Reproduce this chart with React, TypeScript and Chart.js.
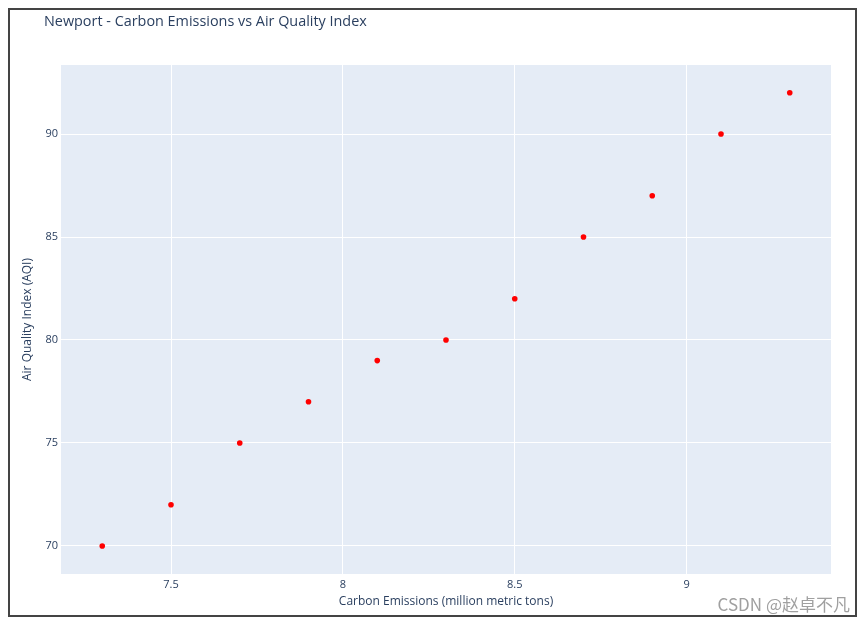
import React, { useEffect, useRef } from "react";
import { Chart, registerables } from "chart.js";

Chart.register(...registerables);

const titleText = "Newport - Carbon Emissions vs Air Quality Index";
const xTitle = "Carbon Emissions (million metric tons)";
const yTitle = "Air Quality Index (AQI)";
const watermark = "CSDN @赵卓不凡";

const carbonEmissions = [7.3, 7.5, 7.7, 7.9, 8.1, 8.3, 8.5, 8.7, 8.9, 9.1, 9.3];
const aqiValues = [70, 72, 75, 77, 79, 80, 82, 85, 87, 90, 92];

const xTicks = [7.5, 8, 8.5, 9];
const yTicks = [70, 75, 80, 85, 90];

const FONT = "'Open Sans', 'Noto Sans', sans-serif";
const TEXT = "#2a3f5f";

export default function App() {
  const ref = useRef<HTMLCanvasElement | null>(null);

  useEffect(() => {
    if (!ref.current) return;
    const bgPlugin = {
      id: "plotBg",
      beforeDraw(chart: any) {
        const { ctx, chartArea } = chart;
        ctx.save();
        ctx.fillStyle = "#e5ecf6";
        ctx.fillRect(chartArea.left, chartArea.top, chartArea.right - chartArea.left, chartArea.bottom - chartArea.top);
        ctx.restore();
      },
      afterDraw(chart: any) {
        const { ctx } = chart;
        ctx.save();
        ctx.fillStyle = TEXT;
        ctx.font = `14.4px ${FONT}`;
        ctx.textBaseline = "middle";
        ctx.textAlign = "left";
        ctx.fillText(titleText, 34, 11.5);
        ctx.fillStyle = "#a0a0a0";
        ctx.font = `17px 'Noto Sans CJK SC', 'Noto Sans', sans-serif`;
        ctx.textAlign = "right";
        ctx.fillText(watermark, 840, 595);
        ctx.restore();
      },
    };

    const chart = new Chart(ref.current, {
      type: "scatter",
      data: {
        datasets: [
          {
            data: carbonEmissions.map((x, i) => ({ x, y: aqiValues[i] })),
            backgroundColor: "#ff0000",
            borderColor: "#ff0000",
            borderWidth: 0,
            pointRadius: 2.8,
          },
        ],
      },
      options: {
        responsive: false,
        animation: false,
        layout: { padding: { left: 0, top: 55, right: 24, bottom: 0 } },
        plugins: {
          legend: { display: false },
          tooltip: { enabled: false },
          title: { display: false },
        },
        scales: {
          x: {
            type: "linear",
            min: 7.18,
            max: 9.42,
            afterBuildTicks: (s: any) => {
              s.ticks = xTicks.map((v) => ({ value: v }));
            },
            afterFit: (s: any) => {
              s.height = 41;
            },
            grid: { color: "#ffffff", lineWidth: 1, drawTicks: false },
            border: { display: false },
            ticks: {
              padding: 4,
              color: TEXT,
              font: { family: FONT, size: 11 },
              callback: (v: any) => String(v),
            },
            title: {
              display: true,
              text: xTitle,
              color: TEXT,
              font: { family: FONT, size: 12 },
              padding: { top: 0, bottom: 6 },
            },
          },
          y: {
            type: "linear",
            min: 68.64,
            max: 93.35,
            afterBuildTicks: (s: any) => {
              s.ticks = yTicks.map((v) => ({ value: v }));
            },
            afterFit: (s: any) => {
              s.width = 51;
            },
            grid: { color: "#ffffff", lineWidth: 1, drawTicks: false },
            border: { display: false },
            ticks: {
              padding: 3,
              color: TEXT,
              font: { family: FONT, size: 11 },
              callback: (v: any) => String(v),
            },
            title: {
              display: true,
              text: yTitle,
              color: TEXT,
              font: { family: FONT, size: 12 },
              padding: { top: 10, bottom: 0 },
            },
          },
        },
      },
      plugins: [bgPlugin],
    });
    return () => chart.destroy();
  }, []);

  return (
    <div
      style={{
        width: 849,
        height: 609,
        border: "2px solid #444",
        boxSizing: "border-box",
        background: "#ffffff",
      }}
    >
      <canvas ref={ref} width={845} height={605} style={{ display: "block" }} />
    </div>
  );
}
